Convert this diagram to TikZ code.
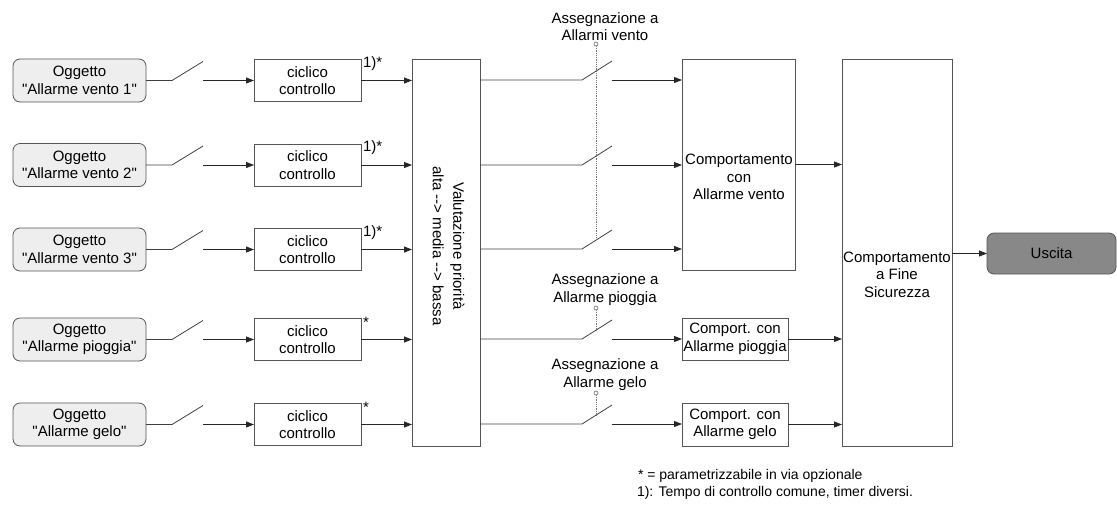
\documentclass[tikz,border=0pt]{standalone}
\usepackage{fontspec}
\newfontfamily\arialf{Liberation Sans}
\usetikzlibrary{arrows.meta}
\definecolor{objfill}{HTML}{EEEEEE}
\definecolor{outfill}{HTML}{888888}
\definecolor{boxline}{HTML}{555555}
\begin{document}
\begin{tikzpicture}[x=1pt,y=-1pt,
  every node/.style={font=\arialf\fontsize{15}{17.5}\selectfont, align=center, inner sep=0pt, outer sep=0pt},
  objbox/.style={draw=boxline, line width=0.8pt, fill=objfill, rounded corners=7pt, minimum width=133pt, minimum height=43pt},
  cycbox/.style={draw=boxline, line width=0.8pt, minimum width=107pt, minimum height=42pt},
  plainbox/.style={draw=boxline, line width=0.8pt},
  outbox/.style={draw=boxline, line width=0.8pt, fill=outfill, rounded corners=7pt, minimum width=129pt, minimum height=41pt},
  arr/.style={draw=black!85, line width=0.8pt, -{Triangle[length=8pt,width=6pt]}},
  ln/.style={draw=black!75, line width=0.8pt},
  ctrl/.style={draw=black!55, line width=0.8pt, densely dotted},
  pin/.style={draw=black!60, line width=0.6pt, fill=white, circle, minimum size=4pt},
  note/.style={font=\arialf\fontsize{14}{17}\selectfont, anchor=west},
  star/.style={anchor=west}
]
\useasboundingbox (0,0) rectangle (1117,507);

% left objects
\node[objbox] (o1) at (79.5,80.5) {Oggetto\\"Allarme vento 1"};
\node[objbox] (o2) at (79.5,165) {Oggetto\\"Allarme vento 2"};
\node[objbox] (o3) at (79.5,249.5) {Oggetto\\"Allarme vento 3"};
\node[objbox] (o4) at (79.5,339.5) {Oggetto\\"Allarme pioggia"};
\node[objbox] (o5) at (79.5,424.5) {Oggetto\\"Allarme gelo"};

% cyclic boxes
\node[cycbox] (c1) at (307.5,80.5) {ciclico\\controllo};
\node[cycbox] (c2) at (307.5,165) {ciclico\\controllo};
\node[cycbox] (c3) at (307.5,249.5) {ciclico\\controllo};
\node[cycbox] (c4) at (307.5,339.5) {ciclico\\controllo};
\node[cycbox] (c5) at (307.5,424.5) {ciclico\\controllo};

\node[star] (s1) at (c1.north east) [xshift=2pt, yshift=-4pt] {1)*};
\node[star] (s2) at (c2.north east) [xshift=2pt, yshift=-4pt] {1)*};
\node[star] (s3) at (c3.north east) [xshift=2pt, yshift=-4pt] {1)*};
\node[star] (s4) at (c4.north east) [xshift=2pt, yshift=-4pt] {*};
\node[star] (s5) at (c5.north east) [xshift=2pt, yshift=-4pt] {*};

% priority box
\node[plainbox, minimum width=68pt, minimum height=387pt] (val) at (446,252.5) {};
\node[rotate=-90, font=\arialf\fontsize{15}{20.5}\selectfont] (valt) at (448.5,246) {Valutazione priorità\\alta --> media --> bassa};

% left switches
\foreach \i/\y in {1/80.5,2/165,3/249.5,4/339.5,5/424.5}{
  \coordinate (la\i) at (172,\y);
  \coordinate (lb\i) at (203,\y-19);
  \coordinate (lc\i) at (203,\y);
  \draw[ln] (o\i.east) -- (la\i) -- (lb\i);
  \draw[arr] (lc\i) -- (c\i.west);
  \draw[arr] (c\i.east) -- (c\i.east -| val.west);
}

% right side boxes
\node[plainbox, minimum width=113pt, minimum height=211pt] (vento) at (738.5,164.5) {};
\node (ventot) at (739,177) {Comportamento\\con\\Allarme vento};
\node[plainbox, minimum width=106pt, minimum height=42pt] (piog) at (735,339) {Comport. con\\Allarme pioggia};
\node[plainbox, minimum width=106pt, minimum height=43pt] (gelo) at (735,424.5) {Comport. con\\Allarme gelo};
\node[plainbox, minimum width=110pt, minimum height=387pt] (fine) at (897,252.5) {};
\node (finet) at (897,274.5) {Comportamento\\a Fine\\Sicurezza};
\node[outbox] (usc) at (1051.5,253.5) {Uscita};

% right switches
\foreach \i/\y in {1/80,2/165,3/249,4/339,5/424}{
  \coordinate (ra\i) at (582,\y);
  \coordinate (rb\i) at (612,\y-19);
  \coordinate (rc\i) at (612,\y);
  \draw[ln] (val.east |- ra\i) -- (ra\i) -- (rb\i);
}
\draw[arr] (rc1) -- (rc1 -| vento.west);
\draw[arr] (rc2) -- (rc2 -| vento.west);
\draw[arr] (rc3) -- (rc3 -| vento.west);
\draw[arr] (rc4) -- (rc4 -| piog.west);
\draw[arr] (rc5) -- (rc5 -| gelo.west);

% assignment controls
\node (lab1) at (605,26.5) {Assegnazione a\\Allarmi vento};
\node (lab2) at (605,289.5) {Assegnazione a\\Allarme pioggia};
\node (lab3) at (605,374.5) {Assegnazione a\\Allarme gelo};
\coordinate (k1) at (596,239.7);
\coordinate (k2) at (596,330.1);
\coordinate (k3) at (596,415.1);
\node[pin] (p1) at (596,44) {};
\node[pin] (p2) at (596,308) {};
\node[pin] (p3) at (596,393) {};
\draw[ctrl] (p1.south) -- (k1);
\draw[ctrl] (p2.south) -- (k2);
\draw[ctrl] (p3.south) -- (k3);

% to final box
\draw[arr] (vento.east) -- (vento.east -| fine.west);
\draw[arr] (piog.east) -- (piog.east -| fine.west);
\draw[arr] (gelo.east) -- (gelo.east -| fine.west);
\draw[arr] (fine.east |- usc.west) -- (usc.west);

% notes
\node[note] (n1) at (638,476) {* = parametrizzabile in via opzionale};
\node[note] (n2) at (637,493) {1): Tempo di controllo comune, timer diversi.};
\end{tikzpicture}
\end{document}
